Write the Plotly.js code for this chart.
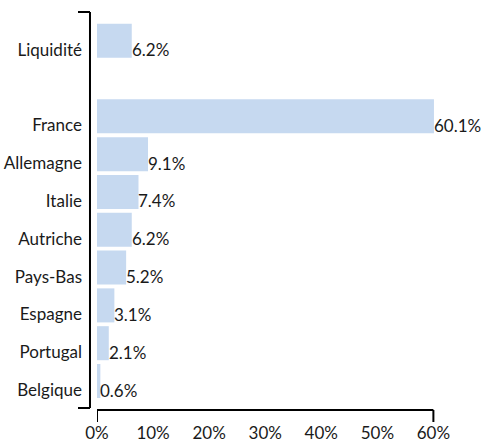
<!DOCTYPE html>
<html>
<head>
<meta charset="utf-8">
<script src="https://cdn.plot.ly/plotly-3.0.1.min.js"></script>
<style>html,body{margin:0;padding:0;background:#fff;}#chart{width:485px;height:443px;}</style>
</head>
<body>
<div id="chart"></div>
<script>
// Data (bottom-to-top order on the axis)
const categories = ["Belgique", "Portugal", "Espagne", "Pays-Bas", "Autriche", "Italie", "Allemagne", "France", " ", "Liquidité"];
const values = [0.6, 2.1, 3.1, 5.2, 6.2, 7.4, 9.1, 60.1, null, 6.2];
const xTickVals = [0, 10, 20, 30, 40, 50, 60];
const xTickText = ["0%", "10%", "20%", "30%", "40%", "50%", "60%"];

const FONT = "Lato, 'DejaVu Sans', sans-serif";
const TXT = "#1a1a1a";
const BAR = "#c6d9f0";
const FS = 17;

const trace = {
  type: "bar",
  orientation: "h",
  x: values,
  y: categories,
  marker: {color: BAR, line: {width: 0}},
  hoverinfo: "skip"
};

const annotations = [];
categories.forEach((c, i) => {
  if (values[i] === null) return;
  annotations.push({
    x: values[i], y: c, xref: "x", yref: "y",
    text: values[i].toFixed(1) + "%",
    showarrow: false, xanchor: "left", yanchor: "middle",
    xshift: -2, yshift: -9,
    font: {family: FONT, size: FS, color: TXT}
  });
});

const lineStyle = {color: "#000", width: 2};
const shapes = [
  // y spine bracket
  {type: "line", xref: "paper", yref: "paper", x0: -0.0205, x1: -0.0205, y0: 0, y1: 1, line: lineStyle},
  {type: "line", xref: "paper", yref: "paper", x0: -0.0556, x1: -0.0205, y0: 1, y1: 1, line: lineStyle},
  {type: "line", xref: "paper", yref: "paper", x0: -0.0556, x1: -0.0205, y0: 0, y1: 0, line: lineStyle},
  // x spine bracket
  {type: "line", xref: "x", yref: "paper", x0: xTickVals[0], x1: xTickVals[xTickVals.length - 1], y0: -0.0051, y1: -0.0051, line: lineStyle},
  {type: "line", xref: "x", yref: "paper", x0: xTickVals[0], x1: xTickVals[0], y0: -0.0051, y1: -0.0354, line: lineStyle},
  {type: "line", xref: "x", yref: "paper", x0: xTickVals[xTickVals.length - 1], x1: xTickVals[xTickVals.length - 1], y0: -0.0051, y1: -0.0354, line: lineStyle}
];

const layout = {
  width: 485, height: 443,
  margin: {l: 97, r: 46.4, t: 12, b: 35, pad: 0},
  paper_bgcolor: "#fff", plot_bgcolor: "#fff",
  showlegend: false,
  bargap: 0.1,
  font: {family: FONT, size: FS, color: TXT},
  xaxis: {
    range: [0, 61], fixedrange: true,
    tickvals: xTickVals, ticktext: xTickText,
    ticks: "", showgrid: false, zeroline: false, showline: false,
    ticklabelstandoff: 13,
    tickfont: {family: FONT, size: FS, color: TXT}
  },
  yaxis: {
    type: "category",
    categoryorder: "array", categoryarray: categories,
    range: [-0.714, 9.76], fixedrange: true,
    ticks: "", showgrid: false, zeroline: false, showline: false,
    ticklabelshift: 9,
    ticklabelstandoff: 14,
    tickfont: {family: FONT, size: FS, color: TXT}
  },
  shapes: shapes,
  annotations: annotations
};

Plotly.newPlot("chart", [trace], layout, {displayModeBar: false, staticPlot: true});
</script>
</body>
</html>
